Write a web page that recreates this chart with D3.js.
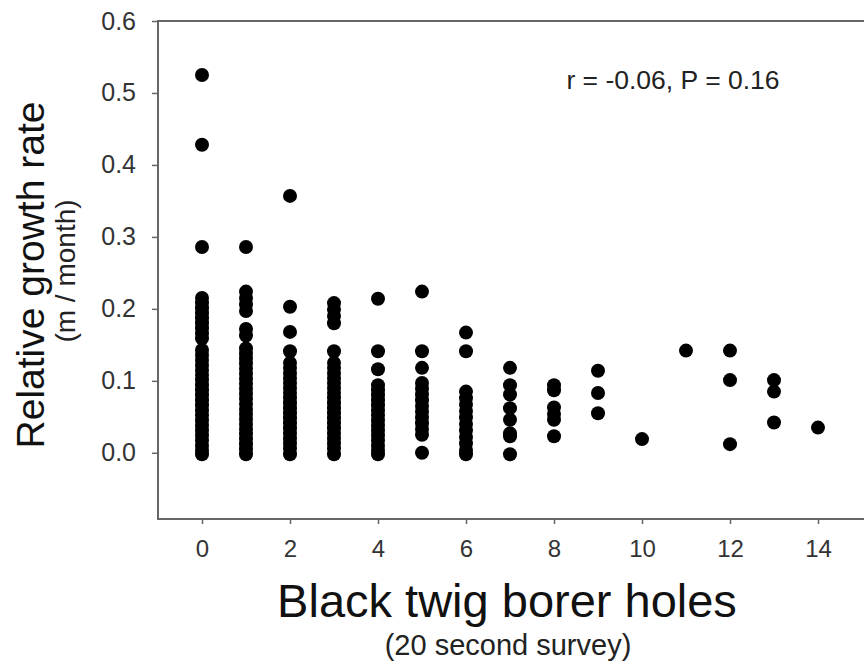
<!DOCTYPE html>
<html>
<head>
<meta charset="utf-8">
<script src="https://cdn.jsdelivr.net/npm/d3@7"></script>
<style>
  html, body { margin: 0; padding: 0; background: #fff; }
  svg { display: block; font-family: "Liberation Sans", Arial, sans-serif; }
</style>
</head>
<body>
<svg id="chart" width="864" height="666"></svg>
<script>
// holes counted per tree (x) and the growth rates seen at each count (y)
const holeCounts = [0, 1, 2, 3, 4, 5, 6, 7, 8, 9, 10, 11, 12, 13, 14];
const growthRates = [
  [0.525, 0.428, 0.286, 0.215, 0.208, 0.201, 0.194, 0.187, 0.180, 0.173, 0.166, 0.159,
   0.143, 0.136, 0.129, 0.122, 0.115, 0.108, 0.101, 0.094, 0.087, 0.080, 0.073, 0.066,
   0.059, 0.052, 0.045, 0.038, 0.031, 0.024, 0.017, 0.010, 0.004, -0.002],
  [0.286, 0.224, 0.215, 0.206, 0.197, 0.172, 0.163, 0.145, 0.138, 0.131, 0.124, 0.117,
   0.110, 0.103, 0.096, 0.089, 0.082, 0.075, 0.068, 0.061, 0.054, 0.047, 0.040, 0.033,
   0.026, 0.019, 0.012, 0.005, -0.002],
  [0.357, 0.203, 0.168, 0.141, 0.125, 0.118, 0.111, 0.104, 0.097, 0.090, 0.083, 0.076,
   0.069, 0.062, 0.055, 0.048, 0.041, 0.034, 0.027, 0.020, 0.013, 0.006, -0.002],
  [0.208, 0.199, 0.190, 0.180, 0.141, 0.125, 0.118, 0.111, 0.104, 0.097, 0.090, 0.083,
   0.076, 0.069, 0.062, 0.055, 0.048, 0.041, 0.034, 0.027, 0.020, 0.013, 0.006, -0.002],
  [0.214, 0.141, 0.116, 0.094, 0.087, 0.080, 0.073, 0.066, 0.059, 0.052, 0.045, 0.038,
   0.031, 0.024, 0.017, 0.010, 0.004, -0.002],
  [0.224, 0.141, 0.118, 0.097, 0.089, 0.081, 0.073, 0.065, 0.057, 0.049, 0.041, 0.033,
   0.025, 0.000],
  [0.167, 0.141, 0.085, 0.076, 0.067, 0.058, 0.049, 0.040, 0.031, 0.022, 0.013, 0.004, -0.002],
  [0.118, 0.094, 0.081, 0.062, 0.046, 0.027, 0.023, -0.002],
  [0.094, 0.087, 0.063, 0.054, 0.046, 0.023],
  [0.114, 0.083, 0.055],
  [0.019],
  [0.142],
  [0.142, 0.101, 0.012],
  [0.101, 0.085, 0.042],
  [0.035]
];
const xTicks = [0, 2, 4, 6, 8, 10, 12, 14];
const yTicks = [0.0, 0.1, 0.2, 0.3, 0.4, 0.5, 0.6];
const statLabel = "r = -0.06, P = 0.16";

const points = holeCounts.flatMap((h, i) => growthRates[i].map(g => ({ h, g })));

const svg = d3.select("#chart");
const plotL = 158, plotR = 862, plotT = 21, plotB = 519;

const x = d3.scaleLinear().domain([-1, 15]).range([plotL, plotR]);
const y = d3.scaleLinear().domain([-0.092, 0.6]).range([plotB, plotT]);

// frame: top, left, bottom (right side runs off the picture)
svg.append("path")
  .attr("d", `M866,${plotT}H${plotL}V${plotB}H866`)
  .attr("fill", "none")
  .attr("stroke", "#666")
  .attr("stroke-width", 2);

// y axis
const yAxis = svg.append("g")
  .attr("transform", `translate(${plotL},0)`)
  .call(d3.axisLeft(y).tickValues(yTicks).tickFormat(d3.format(".1f"))
    .tickSize(6).tickPadding(16));
yAxis.select(".domain").remove();
yAxis.selectAll("line").attr("stroke", "#666").attr("stroke-width", 1.5);
yAxis.selectAll("text")
  .attr("fill", "#333")
  .style("font-size", "25px")
  .style("font-family", "'Liberation Sans', Arial, sans-serif");

// x axis
const xAxis = svg.append("g")
  .attr("transform", `translate(0,${plotB})`)
  .call(d3.axisBottom(x).tickValues(xTicks).tickFormat(d3.format("d"))
    .tickSize(5).tickPadding(16));
xAxis.select(".domain").remove();
xAxis.selectAll("line").attr("stroke", "#666").attr("stroke-width", 1.5);
xAxis.selectAll("text")
  .attr("fill", "#333")
  .style("font-size", "24px")
  .style("font-family", "'Liberation Sans', Arial, sans-serif");

// points
svg.append("g")
  .selectAll("circle")
  .data(points)
  .join("circle")
  .attr("cx", d => x(d.h))
  .attr("cy", d => y(d.g))
  .attr("r", 7)
  .attr("fill", "#000");

// stat annotation
svg.append("text")
  .attr("x", 673).attr("y", 89)
  .attr("text-anchor", "middle")
  .attr("fill", "#222")
  .style("font-size", "26.5px")
  .text(statLabel);

// axis titles
svg.append("text")
  .attr("x", 507).attr("y", 617)
  .attr("text-anchor", "middle")
  .attr("fill", "#111")
  .style("font-size", "47px")
  .text("Black twig borer holes");

svg.append("text")
  .attr("x", 508).attr("y", 655)
  .attr("text-anchor", "middle")
  .attr("fill", "#222")
  .style("font-size", "29px")
  .text("(20 second survey)");

svg.append("text")
  .attr("transform", "translate(44,275) rotate(-90)")
  .attr("text-anchor", "middle")
  .attr("fill", "#111")
  .style("font-size", "39px")
  .text("Relative growth rate");

svg.append("text")
  .attr("transform", "translate(75,271) rotate(-90)")
  .attr("text-anchor", "middle")
  .attr("fill", "#222")
  .style("font-size", "28px")
  .text("(m / month)");
</script>
</body>
</html>
